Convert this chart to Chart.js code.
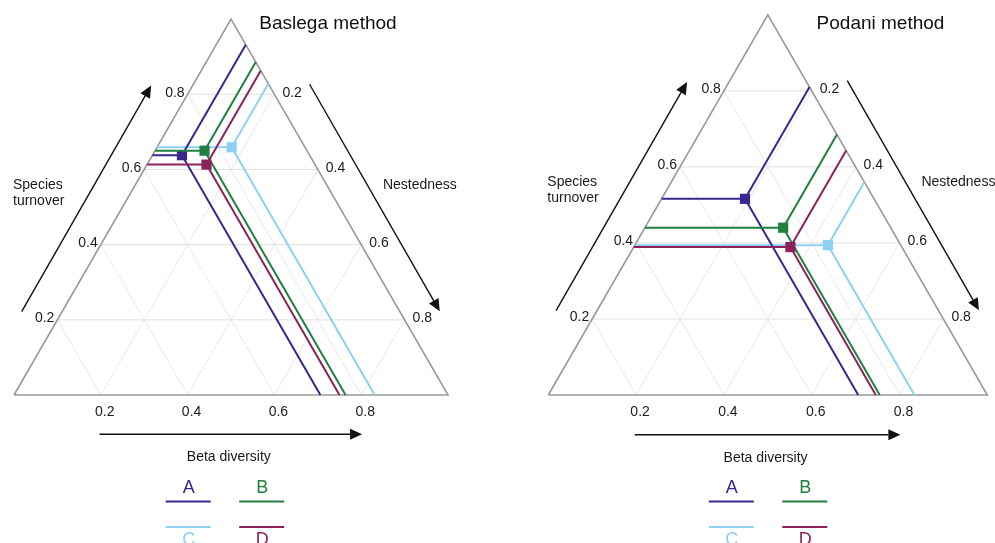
<!DOCTYPE html>
<html><head><meta charset="utf-8">
<script src="https://cdn.jsdelivr.net/npm/chart.js@4.4.1/dist/chart.umd.min.js"></script>
<style>
html,body{margin:0;padding:0;background:#fff;overflow:hidden;}
#wrap{position:relative;width:995px;height:543px;}
.panel{position:absolute;top:0;height:543px;}
canvas{display:block;}
</style></head><body>
<div id="wrap">
 <div class="panel" style="left:0;width:497px"><canvas id="c1" width="497" height="543"></canvas></div>
 <div class="panel" style="left:497px;width:498px"><canvas id="c2" width="498" height="543"></canvas></div>
</div>
<script>
// ---- data ----
const groups = ['A', 'B', 'C', 'D'];
const groupColors = ['#36288f', '#1f8040', '#8dd0f2', '#8c2258'];
const baselgaTurnover = [0.638, 0.650, 0.659, 0.613];
const baselgaNestedness = [0.068, 0.114, 0.172, 0.137];
const podaniTurnover = [0.516, 0.440, 0.394, 0.389];
const podaniNestedness = [0.190, 0.315, 0.440, 0.357];
const tickValues = [0.2, 0.4, 0.6, 0.8];
const tickLabels = ['0.2', '0.4', '0.6', '0.8'];
const turnoverName = ['Species', 'turnover'];
const nestednessName = 'Nestedness';
const betaName = 'Beta diversity';
const panelTitles = ['Baslega method', 'Podani method'];

// ---- helpers ----
const H = Math.sqrt(3) / 2;
const FONT = '"Liberation Sans", Arial, Helvetica, sans-serif';
function cart(t, n) { return { x: n + t / 2, y: t * H }; }
const GAP = { x: null, y: null };

function buildDatasets(turnover, nestedness) {
  const ds = [];
  const hGrid = [], dGrid = [];
  tickValues.forEach(v => {
    hGrid.push(cart(v, 0), cart(v, 1 - v), GAP);
    dGrid.push(cart(0, v), cart(1 - v, v), GAP);          // constant nestedness
    dGrid.push(cart(0, 1 - v), cart(1 - v, 0), GAP);      // constant similarity
  });
  ds.push({ label: 'grid-h', data: hGrid, showLine: true, borderColor: '#e0e0e0', borderWidth: 1, pointRadius: 0, order: 100 });
  ds.push({ label: 'grid-d', data: dGrid, showLine: true, borderColor: '#e9e9e9', borderWidth: 1, pointRadius: 0, order: 101 });
  ds.push({ label: 'frame', data: [cart(0, 0), cart(0, 1), cart(1, 0), cart(0, 0)], showLine: true,
            borderColor: '#9a9a9a', borderWidth: 1.6, pointRadius: 0, order: 50, borderJoinStyle: 'miter' });
  const drawOrder = { A: 3, B: 2, C: 4, D: 1 };
  groups.forEach((g, i) => {
    const t = turnover[i], n = nestedness[i];
    const p = cart(t, n);
    ds.push({
      label: g,
      data: [cart(t, 0), p, cart(1 - n, n), GAP, p, cart(0, t + n)],
      showLine: true,
      borderColor: groupColors[i],
      backgroundColor: groupColors[i],
      borderWidth: 2,
      pointStyle: 'rect',
      pointRadius: ctx => ctx.dataIndex === 1 ? 7.2 : 0,
      pointHoverRadius: 0,
      pointBorderWidth: 0,
      order: drawOrder[g]
    });
  });
  return ds;
}

function arrow(ctx, x1, y1, x2, y2) {
  const ang = Math.atan2(y2 - y1, x2 - x1);
  const L = 12, W = 5.5;
  const bx = x2 - L * Math.cos(ang), by = y2 - L * Math.sin(ang);
  ctx.beginPath();
  ctx.moveTo(x1, y1); ctx.lineTo(bx, by); ctx.stroke();
  ctx.beginPath();
  ctx.moveTo(x2, y2);
  ctx.lineTo(bx + W * Math.sin(ang), by - W * Math.cos(ang));
  ctx.lineTo(bx - W * Math.sin(ang), by + W * Math.cos(ang));
  ctx.closePath(); ctx.fill();
}

const decor = {
  id: 'decor',
  afterDatasetsDraw(chart, args, o) {
    const ctx = chart.ctx, xs = chart.scales.x, ys = chart.scales.y;
    const P = (x, y) => [xs.getPixelForValue(x), ys.getPixelForValue(y)];
    ctx.save();
    ctx.fillStyle = '#1a1a1a';
    ctx.font = '14px ' + FONT;
    ctx.textBaseline = 'middle';
    ctx.textAlign = 'right';
    tickValues.forEach((v, i) => { const c = cart(v, 0); const [x, y] = P(c.x, c.y); ctx.fillText(tickLabels[i], x - 3, y - 1.5); });
    ctx.textAlign = 'left';
    tickValues.forEach((v, i) => { const c = cart(1 - v, v); const [x, y] = P(c.x, c.y); ctx.fillText(tickLabels[i], x + 8, y - 1.5); });
    ctx.textAlign = 'center';
    tickValues.forEach((v, i) => { const [x, y] = P(v, 0); ctx.fillText(tickLabels[i], x + 4, y + 17); });
    ctx.textAlign = 'left';
    let [ax, ay] = P(0, 0.484);
    ctx.fillText(turnoverName[0], ax - 1, ay);
    ctx.fillText(turnoverName[1], ax - 1, ay + 16);
    [ax, ay] = P(0.85, 0.484);
    ctx.fillText(nestednessName, ax, ay);
    ctx.textAlign = 'center';
    [ax, ay] = P(0.495, -0.1435);
    ctx.fillText(betaName, ax, ay);
    ctx.strokeStyle = '#111'; ctx.fillStyle = '#111'; ctx.lineWidth = 1.4;
    let a = P(0.0177, 0.192), b = P(0.316, 0.713);
    arrow(ctx, a[0], a[1], b[0], b[1]);
    a = P(0.681, 0.716); b = P(0.981, 0.193);
    arrow(ctx, a[0], a[1], b[0], b[1]);
    a = P(0.197, -0.0906); b = P(0.802, -0.0906);
    arrow(ctx, a[0], a[1], b[0], b[1]);
    ctx.fillStyle = '#111';
    ctx.font = '19px ' + FONT;
    ctx.textAlign = 'center';
    ctx.fillText(o.title, o.titleX, 24);
    ctx.font = '18px ' + FONT;
    const lx = o.legendX;
    const slots = [[lx, 0], [lx + 73.5, 0], [lx, 1], [lx + 73.5, 1]];
    groups.forEach((g, i) => {
      const [sx, row] = slots[i];
      ctx.strokeStyle = groupColors[i]; ctx.fillStyle = groupColors[i]; ctx.lineWidth = 2.2;
      const ly = row === 0 ? 501.5 : 527;
      ctx.beginPath(); ctx.moveTo(sx, ly); ctx.lineTo(sx + 45, ly); ctx.stroke();
      ctx.fillText(g, sx + 23, row === 0 ? 488.5 : 540.5);
    });
    ctx.restore();
  }
};

function makeChart(id, turnover, nestedness, view) {
  const c = document.getElementById(id);
  const W = c.width, Hh = c.height;
  const xmin = -view.ox / view.unit, xmax = xmin + W / view.unit;
  const ymax = view.oy / view.unit, ymin = ymax - Hh / view.unit;
  return new Chart(c, {
    type: 'scatter',
    data: { datasets: buildDatasets(turnover, nestedness) },
    options: {
      responsive: false, animation: false, devicePixelRatio: 1,
      layout: { padding: 0 },
      scales: {
        x: { type: 'linear', min: xmin, max: xmax, display: false },
        y: { type: 'linear', min: ymin, max: ymax, display: false }
      },
      elements: { line: { tension: 0 } },
      plugins: {
        legend: { display: false }, tooltip: { enabled: false },
        decor: { title: view.title, titleX: view.titleX, legendX: view.legendX }
      }
    },
    plugins: [decor]
  });
}

makeChart('c1', baselgaTurnover, baselgaNestedness,
  { ox: 14, oy: 395, unit: 434, title: panelTitles[0], titleX: 328, legendX: 165.7 });
makeChart('c2', podaniTurnover, podaniNestedness,
  { ox: 51.3, oy: 395, unit: 439, title: panelTitles[1], titleX: 383.5, legendX: 211.8 });
</script>
</body></html>
